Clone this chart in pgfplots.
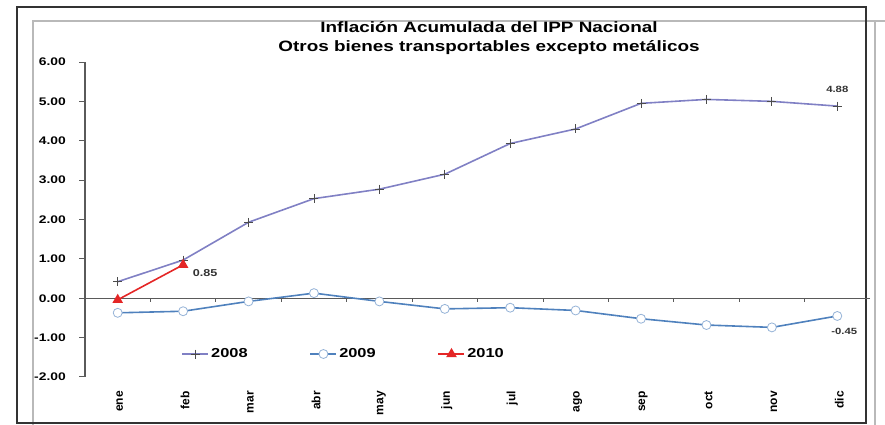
\documentclass[border=0pt]{standalone}
\usepackage{fontspec}
\setmainfont{Liberation Sans}
\newfontfamily\wfb{Liberation Sans}[FakeStretch=1.26]
\usepackage{pgfplots}
\pgfplotsset{compat=1.18}

\definecolor{c2008}{RGB}{128,128,196}
\definecolor{c2009}{RGB}{79,129,189}
\definecolor{c2010}{RGB}{228,38,38}
\definecolor{axgray}{RGB}{90,90,90}

\begin{document}
\begin{tikzpicture}
\path[use as bounding box] (0pt,0pt) rectangle (885pt,425pt);
\draw[line width=1.5pt, gray!55] (33pt,0pt) -- (33pt,404pt) -- (885pt,404pt);
\draw[line width=1.5pt, gray!55] (875pt,404pt) -- (875pt,0pt);
\draw[line width=2pt, black!80] (17pt,2pt) rectangle (866pt,418pt);
\node[font=\wfb\bfseries\fontsize{15}{19}\selectfont, align=center] at (489pt,387pt)
  {Inflación Acumulada del IPP Nacional\\Otros bienes transportables excepto metálicos};
\begin{axis}[
  at={(85pt,48pt)}, anchor=south west,
  scale only axis, width=785pt, height=315pt,
  xmin=-0.5, xmax=11.5, ymin=-2, ymax=6,
  axis y line*=left, axis x line*=bottom,
  x axis line style={draw=none},
  y axis line style={axgray, line width=1.2pt},
  xtick={0,...,11},
  xticklabels={ene,feb,mar,abr,may,jun,jul,ago,sep,oct,nov,dic},
  xtick style={draw=none},
  xticklabel style={rotate=90, anchor=east, font=\bfseries\fontsize{12}{12}\selectfont, inner sep=0pt, xshift=-8pt, yshift=-2pt},
  ytick={-2,...,6},
  yticklabels={-2.00,-1.00,0.00,1.00,2.00,3.00,4.00,5.00,6.00},
  yticklabel style={font=\wfb\bfseries\fontsize{11}{11}\selectfont, inner sep=0pt, xshift=-13pt},
  ytick style={axgray, line width=1pt},
  tick align=outside, major tick length=6pt,
  legend style={at={(0.119,0.073)}, anchor=west, draw=none, fill=none,
    font=\wfb\bfseries\fontsize{13}{13}\selectfont,
    /tikz/every even column/.append style={column sep=60pt}},
  legend columns=3,
  legend image code/.code={\draw[mark repeat=2, mark phase=2, #1] plot coordinates {(0pt,0pt) (13pt,0pt) (26pt,0pt)};},
  clip=false,
]
\draw[axgray, line width=1.2pt] (axis cs:-0.5,0) -- (axis cs:11.5,0);
\pgfplotsinvokeforeach{0.5,1.5,2.5,3.5,4.5,5.5,6.5,7.5,8.5,9.5,10.5}{
  \draw[axgray, line width=0.8pt] (axis cs:#1,0) -- ++(0pt,-4pt);
}
\addplot[c2008, line width=1.6pt, mark=+, mark size=4.5pt, mark options={black!70, line width=0.8pt}]
  coordinates {(0,0.42)(1,0.97)(2,1.93)(3,2.53)(4,2.77)(5,3.15)(6,3.93)(7,4.30)(8,4.95)(9,5.05)(10,5.00)(11,4.88)};
\addlegendentry{2008}
\addplot[c2009, line width=1.6pt, mark=*, mark size=4.5pt, mark options={fill=white, draw=c2009!60, line width=0.8pt}]
  coordinates {(0,-0.37)(1,-0.33)(2,-0.08)(3,0.13)(4,-0.08)(5,-0.27)(6,-0.24)(7,-0.31)(8,-0.52)(9,-0.68)(10,-0.74)(11,-0.45)};
\addlegendentry{2009}
\addplot[c2010, line width=1.6pt, mark=triangle*, mark size=4.5pt]
  coordinates {(0,-0.04)(1,0.85)};
\addlegendentry{2010}
\node[font=\wfb\bfseries\fontsize{9}{9}\selectfont, black!80] at (axis cs:11,4.88) [yshift=17pt] {4.88};
\node[font=\wfb\bfseries\fontsize{10}{10}\selectfont, black!80] at (axis cs:1,0.85) [xshift=22pt, yshift=-8.5pt] {0.85};
\node[font=\wfb\bfseries\fontsize{9}{9}\selectfont, black!80] at (axis cs:11,-0.45) [xshift=7pt, yshift=-15pt] {-0.45};
\end{axis}
\end{tikzpicture}
\end{document}
